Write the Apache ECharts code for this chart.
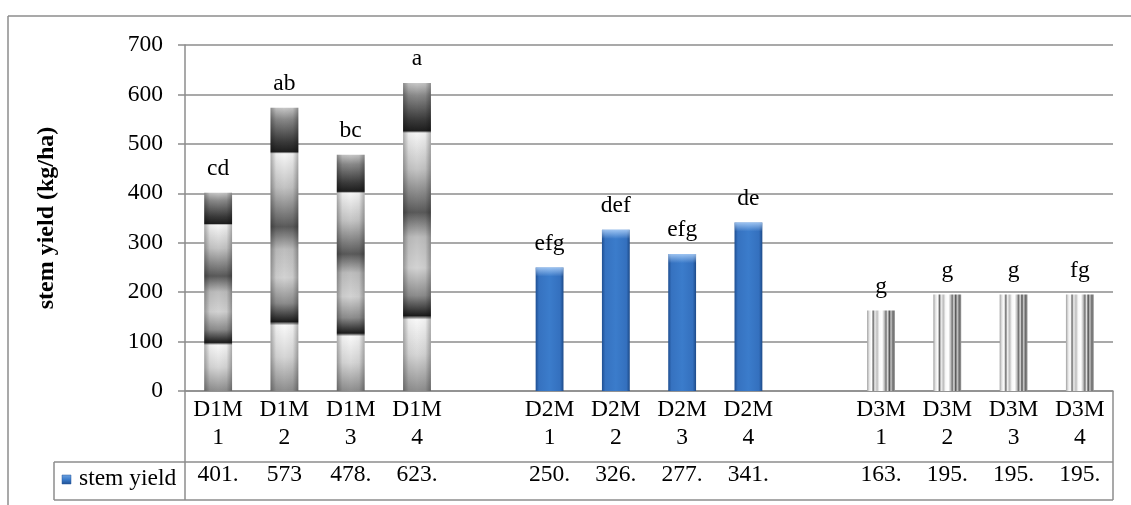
<!DOCTYPE html>
<html><head><meta charset="utf-8">
<script src="https://cdn.jsdelivr.net/npm/echarts@6/dist/echarts.min.js"></script>
<style>html,body{margin:0;padding:0;background:#fff}#c{width:1131px;height:505px}</style>
</head><body><div id="c"></div>
<script>
// ---- data ----
const categories = ["D1M1","D1M2","D1M3","D1M4","","D2M1","D2M2","D2M3","D2M4"," ","D3M1","D3M2","D3M3","D3M4"];
const stemYield = [401, 573, 478, 623, null, 250, 326, 277, 341, null, 163, 195, 195, 195];
const tableValues = ["401.","573","478.","623.","","250.","326.","277.","341.","","163.","195.","195.","195."];
const groupLetters = ["cd","ab","bc","a","","efg","def","efg","de","","g","g","g","fg"];
const seriesName = "stem yield";
const yAxisTitle = "stem yield (kg/ha)";
const yMin = 0, yMax = 700, yStep = 100;

// ---- layout ----
const W = 1131, H = 505;
const L = 185, R = 1113, T = 45, B = 391;
const ROW1 = 462, ROW2 = 500, LEG_L = 54;
const FRAME_L = 8, FRAME_T = 16;
const FONT = "'Liberation Serif', 'Times New Roman', serif";
const FS = 23.5;
const GRID_C = '#8c8c8c';

const g = (x2, y2, stops) => ({type:'linear', x:0, y:0, x2:x2, y2:y2,
  colorStops: stops.map(s => ({offset:s[0], color:s[1]}))});

const chromeV = g(0,1,[[0,'#c8c8c8'],[0.04,'#8a8a8a'],[0.12,'#3a3a3a'],[0.155,'#1e1e1e'],[0.162,'#f6f6f6'],
  [0.28,'#c4c4c4'],[0.42,'#5a5a5a'],[0.5,'#bdbdbd'],[0.6,'#d2d2d2'],[0.69,'#8d8d8d'],[0.755,'#1c1c1c'],
  [0.768,'#f8f8f8'],[0.88,'#d6d6d6'],[1,'#8e8e8e']]);
const edgeShade = g(1,0,[[0,'rgba(0,0,0,0.3)'],[0.2,'rgba(0,0,0,0.04)'],[0.5,'rgba(0,0,0,0)'],[0.8,'rgba(0,0,0,0.04)'],[1,'rgba(0,0,0,0.3)']]);
const blue = g(1,0,[[0,'#1f4f92'],[0.12,'#3672c0'],[0.5,'#3b7ccb'],[0.88,'#3470be'],[1,'#1d4a88']]);
const stripes = g(1,0,[[0,'#a0a0a0'],[0.08,'#e4e4e4'],[0.16,'#ffffff'],[0.22,'#6a6a6a'],[0.28,'#ededed'],
  [0.36,'#bdbdbd'],[0.44,'#f8f8f8'],[0.54,'#ffffff'],[0.62,'#c0c0c0'],[0.68,'#707070'],
  [0.74,'#e2e2e2'],[0.8,'#4e4e4e'],[0.86,'#c8c8c8'],[0.93,'#6a6a6a'],[1,'#9a9a9a']]);
const legendKey = g(0,1,[[0,'#6fa3e0'],[0.5,'#3b7ccb'],[1,'#1f4f92']]);

function styleFor(cat){
  if (cat.startsWith('D1')) return chromeV;
  if (cat.startsWith('D2')) return blue;
  return stripes;
}
// top bevel highlight for the blue bars (about 9 px tall whatever the bar height)
function bevelFor(v){
  const px = v / (yMax - yMin) * (B - T);
  const k = Math.min(0.5, 9 / px);
  return g(0,1,[[0,'rgba(190,220,255,0.75)'],[k,'rgba(190,220,255,0.0)'],[1,'rgba(0,0,0,0)']]);
}

const mainData = stemYield.map((v,i) => v == null ? '-' : ({value:v, itemStyle:{color:styleFor(categories[i])}}));
const shadeData = stemYield.map((v,i) => {
  if (v == null) return '-';
  const c = categories[i];
  if (c.startsWith('D1')) return {value:v, itemStyle:{color:edgeShade}};
  if (c.startsWith('D2')) return {value:v, itemStyle:{color:bevelFor(v)}};
  return '-';
});

const lineStyle = {stroke: GRID_C, lineWidth: 1.5};
const ln = (x1,y1,x2,y2) => ({type:'line', silent:true, shape:{x1,y1,x2,y2}, style:lineStyle});
const ROWMID = (ROW1 + ROW2) / 2;

const chart = echarts.init(document.getElementById('c'), null, {renderer:'canvas'});
chart.setOption({
  animation:false,
  backgroundColor:'#fff',
  textStyle:{fontFamily:FONT},
  grid:{left:L, right:W-R, top:T, bottom:H-B, containLabel:false},
  xAxis:[{
    type:'category', data:categories, position:'bottom',
    axisLine:{show:true, lineStyle:{color:GRID_C, width:1.5}},
    axisTick:{show:false},
    axisLabel:{interval:0, margin:5, fontFamily:FONT, fontSize:FS, lineHeight:28, color:'#000',
      formatter:v => v.replace(/(\d)$/, '\n$1')},
    splitLine:{show:false}
  },{
    type:'category', data:categories, position:'bottom', offset:64,
    axisLine:{show:false}, axisTick:{show:false}, splitLine:{show:false},
    axisLabel:{interval:0, margin:8, fontFamily:FONT, fontSize:FS, color:'#000',
      formatter:(v,i) => tableValues[i]}
  }],
  yAxis:{
    type:'value', min:yMin, max:yMax, interval:yStep,
    name:yAxisTitle, nameLocation:'middle', nameGap:126, nameRotate:90,
    nameTextStyle:{fontFamily:FONT, fontSize:24, fontWeight:'bold', color:'#000'},
    axisLine:{show:true, lineStyle:{color:GRID_C, width:1.5}},
    axisTick:{show:true, length:7, lineStyle:{color:GRID_C, width:1.5}},
    axisLabel:{margin:22, fontFamily:FONT, fontSize:FS, color:'#000'},
    splitLine:{show:true, lineStyle:{color:GRID_C, width:1.5}}
  },
  series:[{
    name:seriesName, type:'bar', data:mainData, barWidth:'42%', barGap:'-100%',
    itemStyle:{color:blue},
    label:{show:true, position:'top', distance:12, fontFamily:FONT, fontSize:FS, color:'#000',
      formatter:p => groupLetters[p.dataIndex]}
  },{
    name:'shade', type:'bar', data:shadeData, barWidth:'42%', barGap:'-100%', silent:true,
    label:{show:false}
  }],
  graphic:[
    ln(FRAME_L, FRAME_T, FRAME_L, H),
    ln(FRAME_L, FRAME_T, W, FRAME_T),
    ln(L, B, L, ROW2),
    ln(R, B, R, ROW2),
    ln(LEG_L, ROW1, R, ROW1),
    ln(LEG_L, ROW2, R, ROW2),
    ln(LEG_L, ROW1, LEG_L, ROW2),
    {type:'rect', silent:true, shape:{x:LEG_L+8, y:ROWMID-6, width:9, height:9},
      style:{fill:legendKey, stroke:'#2a5a9c', lineWidth:0.5}},
    {type:'text', silent:true, x:LEG_L+25, y:ROWMID-2,
      style:{text:seriesName, fontFamily:FONT, fontSize:FS, fill:'#000', verticalAlign:'middle', align:'left'}}
  ]
});
</script></body></html>
